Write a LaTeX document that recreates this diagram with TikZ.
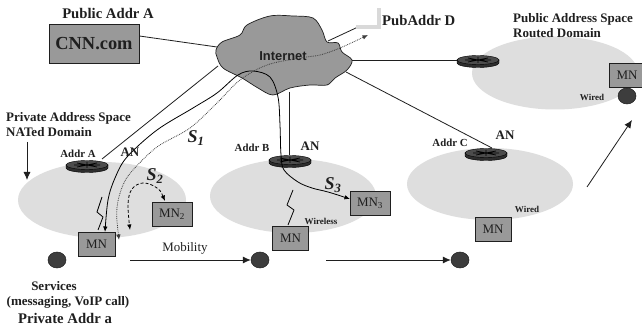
\documentclass[tikz,border=0pt]{standalone}
\usepackage{fontspec}
\setmainfont{Liberation Serif}
\newfontfamily\sansb{Liberation Sans}
\usetikzlibrary{arrows.meta,shapes.geometric}
\definecolor{domain}{gray}{0.87}
\definecolor{boxg}{gray}{0.6}
\definecolor{cloudg}{gray}{0.6}
\definecolor{dotg}{gray}{0.24}
\definecolor{ink}{gray}{0.12}
\tikzset{
 domainell/.style={ellipse,fill=domain,draw=none,inner sep=0pt},
 mnbox/.style={draw=ink,line width=0.9pt,fill=boxg,inner sep=0pt,text=ink,font=\fontsize{13}{14}\selectfont},
 host/.style={ellipse,draw=ink,line width=0.5pt,fill=dotg,minimum width=18pt,minimum height=16pt,inner sep=0pt},
 lab/.style={inner sep=0pt,text=ink,font=\bfseries\fontsize{13}{15}\selectfont,align=left},
 big/.style={inner sep=0pt,text=ink,font=\bfseries\fontsize{14.7}{16}\selectfont},
 small/.style={inner sep=0pt,text=ink,font=\bfseries\fontsize{9}{10}\selectfont},
 addr/.style={inner sep=0pt,text=ink,font=\bfseries\fontsize{10.8}{12}\selectfont},
 sess/.style={inner sep=0pt,text=ink,font=\bfseries\itshape\fontsize{18}{20}\selectfont},
 link/.style={draw=ink,line width=0.8pt},
 tip/.style={{Latex[length=5.5pt,width=4.5pt]}-{Latex[length=5.5pt,width=4.5pt]}},
 bigtip/.style={-{Latex[length=8pt,width=7pt]}},
 routertop/.style={ellipse,draw=black,line width=0.4pt,fill=gray!60!black,minimum width=42pt,minimum height=9pt,inner sep=0pt},
 router/.pic={
  \fill[gray!35!black,draw=black,line width=0.4pt] (-21,0) -- (-21,3) arc[start angle=180,end angle=0,x radius=21,y radius=4.5] -- (21,0) -- cycle;
 },
 routerdetail/.style={draw=black,line width=0.7pt},
}
\newcommand{\routerat}[2]{%
 \pic at (#2) {router};
 \node[routertop] (#1) at (#2) {};
 \draw[routerdetail] ([shift={(-10,-2)}]#2) -- ([shift={(10,2)}]#2) ([shift={(-10,2)}]#2) -- ([shift={(10,-2)}]#2) ([shift={(0,-3)}]#2) -- ([shift={(0,3)}]#2) ([shift={(-13,0)}]#2) -- ([shift={(13,0)}]#2);
}
\begin{document}
\begin{tikzpicture}[x=1pt,y=-1pt]
\useasboundingbox (0,0) rectangle (642,331);
\fill[white] (0,0) rectangle (642,331);
% domains
\node[domainell,minimum width=168pt,minimum height=76pt] (da) at (102,200) {};
\node[domainell,minimum width=166pt,minimum height=74pt] (db) at (293,196) {};
\node[domainell,minimum width=166pt,minimum height=72pt] (dc) at (490,184) {};
\node[domainell,minimum width=166pt,minimum height=73pt] (dd) at (555,73) {};
% cloud
\draw[fill=cloudg,draw=ink,line width=0.7pt] plot[smooth cycle,tension=0.55] coordinates {
 (216,50) (222,42) (240,35) (247,25) (270,16) (293,16) (313,18) (322,30) (327,42) (338,43) (342,52) (352,60) (347,70) (335,78) (327,85) (310,85) (290,88) (273,95) (258,88) (242,78) (223,68) (217,57)};
\node[inner sep=0pt,text=ink,font=\sansb\bfseries\fontsize{12.9}{14}\selectfont] (inet) at (283,56) {Internet};
% cloud edge points and free ends
\coordinate (c1) at (217,47);
\coordinate (c2) at (218,66);
\coordinate (c3) at (289,92);
\coordinate (c4) at (352,60);
\coordinate (c5) at (346,72);
\coordinate (c6) at (328,41);
\coordinate (pub) at (358,27);
% CNN
\node[draw=ink,line width=0.9pt,fill=boxg,minimum width=90pt,minimum height=39pt,inner sep=0pt,text=ink,font=\bfseries\fontsize{18.4}{20}\selectfont] (cnn) at (94,43.5) {CNN.com};
\node[big] (pa) at (108,13) {Public Addr A};
% routers
\routerat{ra}{87,165}
\routerat{rb}{290,160}
\routerat{rc}{486,153}
\routerat{rd}{478,60}
% links
\draw[link] (cnn.east |- 0,36) -- (c1);
\draw[link] (102,159) -- (c2);
\draw[link] (c3) -- (c3 |- rb.north);
\draw[link] (c4) -- (rd.west);
\draw[link] (c5) -- (492,148);
\draw[link] (c6) -- (pub);
% blurred corner
\draw[gray!30,line width=3.5pt] (356,27) -- (379,27) -- (379,8);
% MN
\node[mnbox,minimum width=37pt,minimum height=24pt] (mn1) at (96.5,244.5) {MN};
\node[mnbox,minimum width=40pt,minimum height=24pt] (mn2) at (172,214) {MN\textsubscript{2}};
\node[mnbox,minimum width=36pt,minimum height=24pt] (mnb) at (290.5,238) {MN};
\node[mnbox,minimum width=40pt,minimum height=24pt] (mn3) at (370,203) {MN\textsubscript{3}};
\node[mnbox,minimum width=36pt,minimum height=24pt] (mnc) at (493,229) {MN};
\node[mnbox,minimum width=36pt,minimum height=24pt] (mnd) at (627,75) {MN};
% hosts
\node[host] (h1) at (57,260) {};
\node[host] (h2) at (260,260) {};
\node[host] (h3) at (460,260) {};
\node[host] (h4) at (627,96) {};
% sessions
\draw[black,line width=0.8pt,tip] plot[smooth,tension=0.55] coordinates {
 (350,199) (328,192) (312,188) (298,182) (284,170) (281,155) (280,125) (278,97) (270,77) (253,71) (238,75) (217,93) (193,108) (157,130) (127,157) (115,178) (108,200) (105,232)};
\draw[dotg,densely dotted,line width=0.8pt,tip] plot[smooth,tension=0.55] coordinates {
 (119,240) (117,208) (123,185) (133,170) (157,147) (190,128) (217,103) (240,80) (267,65) (300,58) (320,55) (340,48) (368,35)};
\draw[black,densely dashed,line width=0.8pt,tip] plot[smooth,tension=0.6] coordinates {
 (165,201) (157,188) (143,183) (132,189) (128,204) (130,230)};
% bolts
\draw[black,line width=0.8pt] (102,197) -- (97,212) -- (103,217) -- (98,230);
\draw[black,line width=0.8pt] (293,190) -- (287,205) -- (294,210) -- (288,225);
% move arrows
\coordinate (m1) at (130,260);
\coordinate (m2) at (326,260);
\coordinate (m3) at (587,187);
\coordinate (m4) at (632,120);
\coordinate (p1) at (27,142);
\coordinate (p2) at (27,180);
\draw[link,bigtip] (m1) -- (h2.west);
\draw[link,bigtip] (m2) -- (h3.west);
\draw[link,bigtip] (m3) -- (m4);
\draw[link,bigtip] (p1) -- (p2);
% labels
\node[lab,anchor=west] (t1) at (6,125) {Private Address Space\\NATed Domain};
\node[big,anchor=west] (t2) at (382,20) {PubAddr D};
\node[lab,anchor=west] (t3) at (513,26) {Public Address Space\\Routed Domain};
\node[addr] (la) at (78,154) {Addr A};
\node[addr] (lb) at (252,148) {Addr B};
\node[addr] (lc) at (450,143) {Addr C};
\node[lab] (ana) at (130,152) {AN};
\node[lab] (anb) at (310,146) {AN};
\node[lab] (anc) at (505,135) {AN};
\node[sess] (s1) at (196,138) {S\textsubscript{1}};
\node[sess] (s2) at (155,176) {S\textsubscript{2}};
\node[sess] (s3) at (333,185) {S\textsubscript{3}};
\node[small] (w1) at (321,221) {Wireless};
\node[small] (w2) at (527,209) {Wired};
\node[small] (w3) at (592,97) {Wired};
\node[inner sep=0pt,text=ink,font=\fontsize{12.9}{14}\selectfont] (mob) at (185,248) {Mobility};
\node[lab] (sv) at (54,286) {Services};
\node[lab] (sv2) at (68,302) {(messaging, VoIP call)};
\node[big] (pv) at (65,318) {Private Addr a};
\end{tikzpicture}
\end{document}
